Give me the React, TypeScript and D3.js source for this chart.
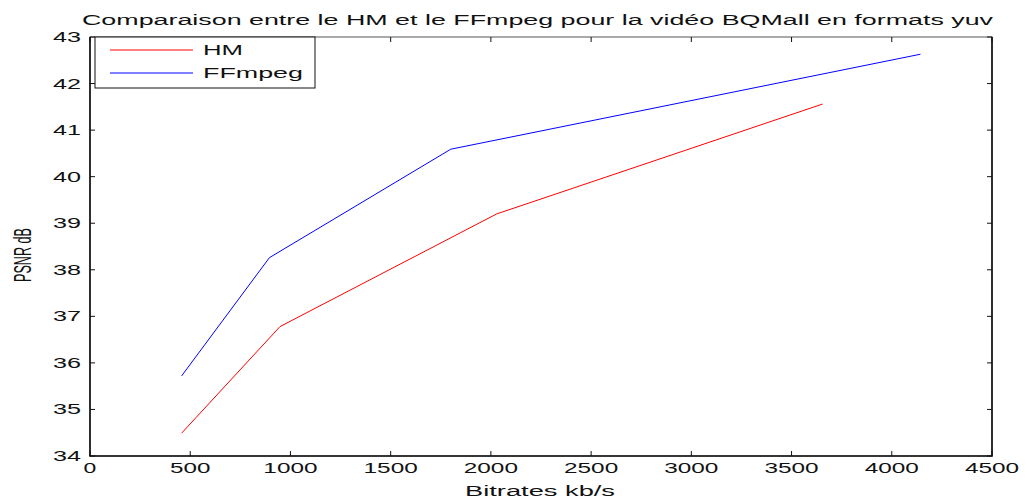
import React, { useEffect, useRef } from 'react';
import * as d3 from 'd3';

const hmBitrates = [457, 948, 2029, 3655];
const hmPsnr = [34.49, 36.78, 39.2, 41.56];
const ffBitrates = [457, 895, 1800, 4143];
const ffPsnr = [35.72, 38.26, 40.59, 42.63];

const xTicks = [0, 500, 1000, 1500, 2000, 2500, 3000, 3500, 4000, 4500];
const yTicks = [34, 35, 36, 37, 38, 39, 40, 41, 42, 43];

const seriesNames = ['HM', 'FFmpeg'];
const seriesColors = ['#ff0000', '#0000ff'];

const title = 'Comparaison entre le HM et le FFmpeg pour la vidéo BQMall en formats yuv';

const App = () => {
  const svgRef = useRef(null);
  const width = 1027;
  const height = 498;

  useEffect(() => {
    const svg = d3.select(svgRef.current);
    svg.selectAll('*').remove();

    const margin = { top: 37, right: 35, bottom: 42, left: 90 };
    const x0 = margin.left, x1 = width - margin.right;
    const y0 = height - margin.bottom, y1 = margin.top;

    const x = d3.scaleLinear().domain([0, 4500]).range([x0, x1]);
    const y = d3.scaleLinear().domain([34, 43]).range([y0, y1]);

    const font = 'Liberation Sans, Arial, sans-serif';
    const tickLen = 5;

    // frame
    svg.append('rect')
      .attr('x', x0).attr('y', y1)
      .attr('width', x1 - x0).attr('height', y0 - y1)
      .attr('fill', 'white')
      .attr('stroke', '#555')
      .attr('stroke-width', 1);
    // left + bottom axes a bit heavier
    svg.append('path')
      .attr('d', `M${x0},${y1}V${y0}H${x1}V${y1}`)
      .attr('fill', 'none')
      .attr('stroke', '#111')
      .attr('stroke-width', 1.6);

    // x ticks (bottom + top, inside)
    xTicks.forEach(t => {
      const px = x(t);
      svg.append('line').attr('x1', px).attr('x2', px).attr('y1', y0).attr('y2', y0 - tickLen)
        .attr('stroke', '#111').attr('stroke-width', 1);
      svg.append('line').attr('x1', px).attr('x2', px).attr('y1', y1).attr('y2', y1 + tickLen)
        .attr('stroke', '#111').attr('stroke-width', 1);
      const label = String(t);
      svg.append('text')
        .attr('x', px).attr('y', y0 + 17)
        .attr('text-anchor', 'middle')
        .attr('font-family', font).attr('font-size', 14)
        .attr('textLength', 13.8 * label.length - 1)
        .attr('lengthAdjust', 'spacingAndGlyphs')
        .attr('fill', '#111')
        .text(label);
    });

    // y ticks (left + right, inside)
    yTicks.forEach(t => {
      const py = y(t);
      svg.append('line').attr('x1', x0).attr('x2', x0 + tickLen).attr('y1', py).attr('y2', py)
        .attr('stroke', '#111').attr('stroke-width', 1);
      svg.append('line').attr('x1', x1).attr('x2', x1 - tickLen).attr('y1', py).attr('y2', py)
        .attr('stroke', '#111').attr('stroke-width', 1);
      svg.append('text')
        .attr('x', 81).attr('y', py + 5)
        .attr('text-anchor', 'end')
        .attr('font-family', font).attr('font-size', 14)
        .attr('textLength', 28)
        .attr('lengthAdjust', 'spacingAndGlyphs')
        .attr('fill', '#111')
        .text(String(t));
    });

    // lines
    const line = d3.line<[number, number]>().x(d => x(d[0])).y(d => y(d[1]));
    const series = [
      d3.zip(hmBitrates, hmPsnr) as [number, number][],
      d3.zip(ffBitrates, ffPsnr) as [number, number][]
    ];
    series.forEach((pts, i) => {
      svg.append('path')
        .attr('d', line(pts))
        .attr('fill', 'none')
        .attr('stroke', seriesColors[i])
        .attr('stroke-width', 1);
    });

    // legend
    const legend = svg.append('g').attr('transform', `translate(95, ${y1})`);
    legend.append('rect')
      .attr('width', 220).attr('height', 51)
      .attr('fill', 'white')
      .attr('stroke', '#111').attr('stroke-width', 1);
    const legendWidths = [40, 100];
    seriesNames.forEach((name, i) => {
      const ly = 13 + i * 23;
      legend.append('line')
        .attr('x1', 15).attr('x2', 98).attr('y1', ly).attr('y2', ly)
        .attr('stroke', seriesColors[i]).attr('stroke-width', 1);
      legend.append('text')
        .attr('x', 108).attr('y', ly + 5)
        .attr('font-family', font).attr('font-size', 14)
        .attr('textLength', legendWidths[i])
        .attr('lengthAdjust', 'spacingAndGlyphs')
        .attr('fill', '#111')
        .text(name);
    });

    // title
    svg.append('text')
      .attr('x', 82).attr('y', 25)
      .attr('font-family', font).attr('font-size', 14)
      .attr('textLength', 911)
      .attr('lengthAdjust', 'spacingAndGlyphs')
      .attr('fill', '#111')
      .text(title);

    // x label
    svg.append('text')
      .attr('x', 465).attr('y', 496)
      .attr('font-family', font).attr('font-size', 14)
      .attr('textLength', 150)
      .attr('lengthAdjust', 'spacingAndGlyphs')
      .attr('fill', '#111')
      .text('Bitrates kb/s');

    // y label
    svg.append('text')
      .attr('transform', 'translate(31, 282) rotate(-90)')
      .attr('font-family', font).attr('font-size', 23)
      .attr('textLength', 54)
      .attr('lengthAdjust', 'spacingAndGlyphs')
      .attr('fill', '#111')
      .text('PSNR dB');
  }, []);

  return (
    <svg
      ref={svgRef}
      width={width}
      height={height}
      style={{ position: 'absolute', left: 0, top: 0, background: 'white', display: 'block' }}
    />
  );
};

export default App;
